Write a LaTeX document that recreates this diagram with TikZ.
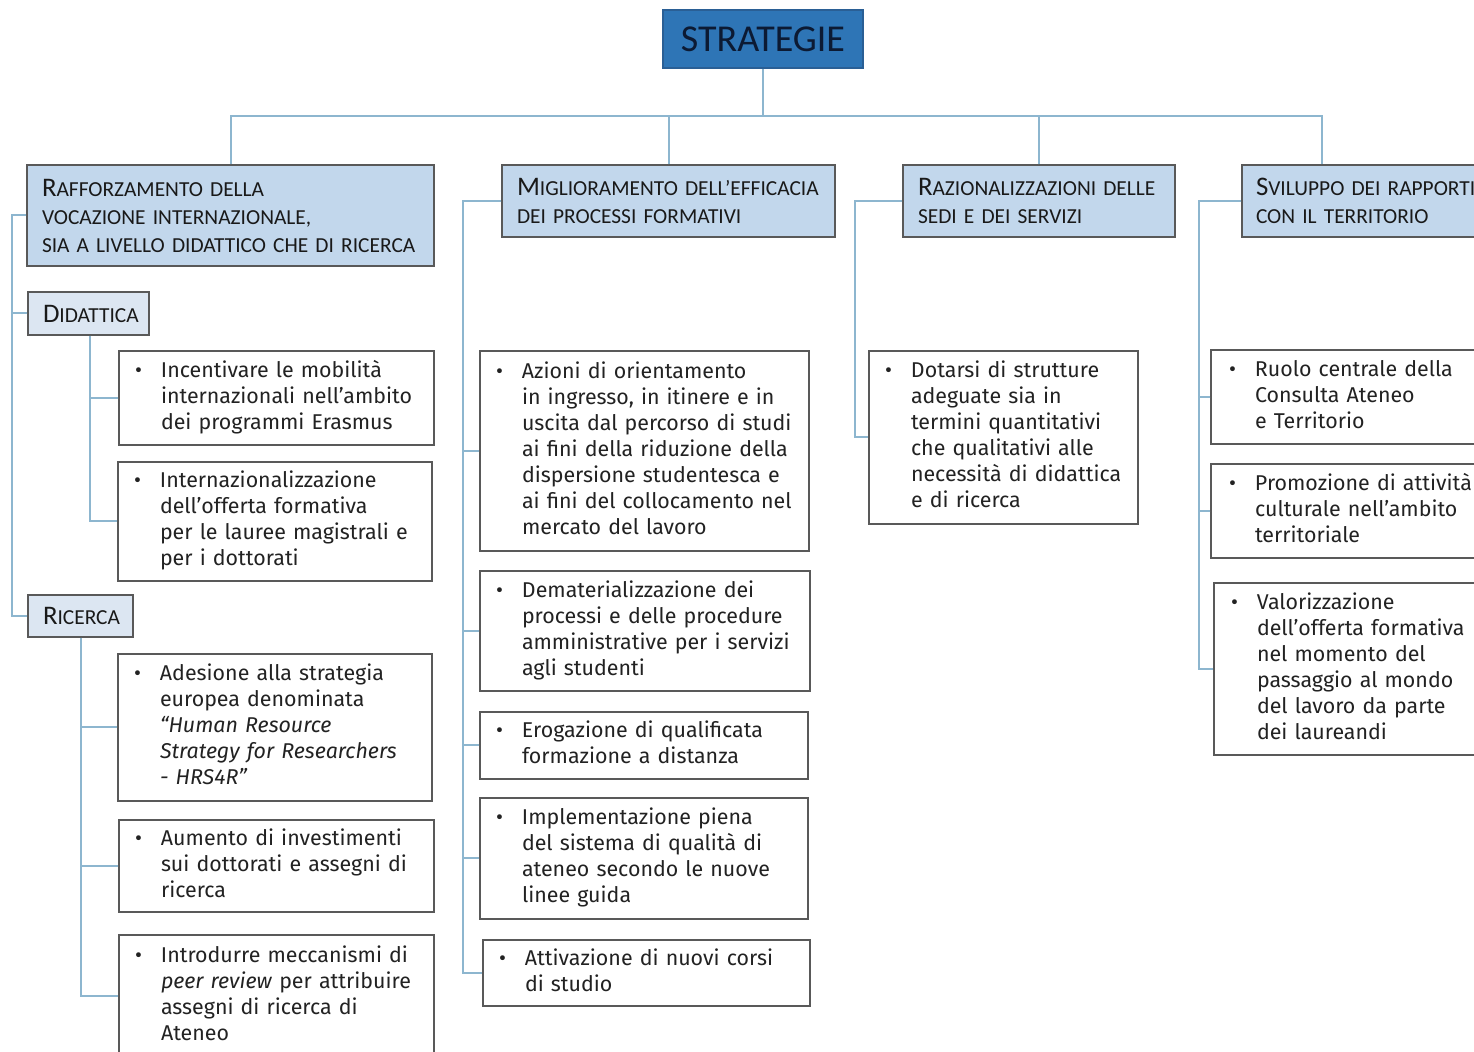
\documentclass[tikz,border=0pt]{standalone}
\usepackage{fontspec}
\setmainfont{Fira Sans}
\newfontfamily\hdfont{Carlito}
\usetikzlibrary{calc}
\definecolor{conncol}{HTML}{8DB6CF}
\definecolor{bordercol}{HTML}{595959}
\definecolor{hdfill}{HTML}{C2D7EC}
\definecolor{subfill}{HTML}{DCE6F2}
\definecolor{topfill}{HTML}{2E75B6}
\definecolor{topdraw}{HTML}{2A5F95}
\definecolor{toptext}{HTML}{0C1A33}
\definecolor{bodytext}{HTML}{222222}
\newcommand\bul[1]{\makebox[13pt][l]{\textbullet}\begin{tabular}[t]{@{}l@{}}#1\end{tabular}}
\newcommand\hd[2]{{\fontsize{13.4}{14}\selectfont #1}#2}
% style, name, x1, y1, x2, y2, xpad, text
\newcommand\bx[8]{%
  \pgfmathsetmacro\bxw{(#5-#3)*0.5}%
  \pgfmathsetmacro\bxh{(#6-#4)*0.5}%
  \pgfmathsetmacro\bxt{(#5-#3)*0.5-2*#7}%
  \node[#1, inner xsep=#7pt, inner ysep=0pt, minimum width=\bxw pt, minimum height=\bxh pt, text width=\bxt pt] (#2) at ({(#3+#5)/2},{(#4+#6)/2}) {#8};}
\tikzset{
  conn/.style={draw=conncol, line width=1pt},
  topbox/.style={draw=topdraw, fill=topfill, line width=0.8pt, text=toptext, font=\hdfont\fontsize{19}{22}\selectfont, inner sep=0pt},
  header/.style={draw=bordercol, fill=hdfill, line width=0.6pt, align=left, text=black!90, font=\hdfont\fontsize{10.7}{14}\selectfont},
  subhd/.style={header, fill=subfill},
  item/.style={draw=bordercol, fill=white, line width=0.6pt, align=left, text=bodytext, font=\fontsize{10.7}{13}\selectfont}
}
\begin{document}
\begin{tikzpicture}[x=0.5pt,y=-0.5pt]
\useasboundingbox (0,0) rectangle (1474,1052);
\clip (0,0) rectangle (1474,1052);
\fill[white] (0,0) rectangle (1474,1052);

\node[topbox, minimum width=100pt, minimum height=29pt] (top) at (763,39) {STRATEGIE};

\bx{header}{h1}{27}{165}{434}{266}{7.5}{\hd{R}{AFFORZAMENTO DELLA}\\VOCAZIONE INTERNAZIONALE,\\SIA A LIVELLO DIDATTICO CHE DI RICERCA}
\bx{header}{h2}{502}{165}{835}{237}{7.5}{\hd{M}{IGLIORAMENTO DELL’EFFICACIA}\\DEI PROCESSI FORMATIVI}
\bx{header}{h3}{903}{165}{1175}{237}{7.5}{\hd{R}{AZIONALIZZAZIONI DELLE}\\SEDI E DEI SERVIZI}
\bx{header}{h4}{1242}{165}{1500}{237}{7}{\hd{S}{VILUPPO DEI RAPPORTI}\\CON IL TERRITORIO}

\bx{subhd}{did}{28}{292}{149}{335}{7.5}{\hd{D}{IDATTICA}}
\bx{subhd}{ric}{28}{595}{133}{637}{7.5}{\hd{R}{ICERCA}}

\bx{item}{d1}{119}{351}{434}{445}{8}{\bul{Incentivare le mobilità\\internazionali nell’ambito\\dei programmi Erasmus}}
\bx{item}{d2}{118}{462}{432}{581}{8}{\bul{Internazionalizzazione\\dell’offerta formativa\\per le lauree magistrali e\\per i dottorati}}
\bx{item}{r1}{118}{654}{432}{801}{8}{\bul{Adesione alla strategia\\europea denominata\\\textit{“Human Resource}\\\textit{Strategy for Researchers}\\\textit{- HRS4R”}}}
\bx{item}{r2}{119}{820}{434}{912}{8}{\bul{Aumento di investimenti\\sui dottorati e assegni di\\ricerca}}
\bx{item}{r3}{119}{935}{434}{1058}{8}{\bul{Introdurre meccanismi di\\\textit{peer review} per attribuire\\assegni di ricerca di\\Ateneo}}

\bx{item}{m1}{480}{351}{809}{551}{8}{\bul{Azioni di orientamento\\in ingresso, in itinere e in\\uscita dal percorso di studi\\ai fini della riduzione della\\dispersione studentesca e\\ai fini del collocamento nel\\mercato del lavoro}}
\bx{item}{m2}{480}{571}{810}{691}{8}{\bul{Dematerializzazione dei\\processi e delle procedure\\amministrative per i servizi\\agli studenti}}
\bx{item}{m3}{480}{712}{808}{779}{8}{\bul{Erogazione di qualificata\\formazione a distanza}}
\bx{item}{m4}{480}{798}{808}{919}{8}{\bul{Implementazione piena\\del sistema di qualità di\\ateneo secondo le nuove\\linee guida}}
\bx{item}{m5}{483}{940}{810}{1006}{8}{\bul{Attivazione di nuovi corsi\\di studio}}

\bx{item}{q1}{869}{351}{1138}{524}{8}{\bul{Dotarsi di strutture\\adeguate sia in\\termini quantitativi\\che qualitativi alle\\necessità di didattica\\e di ricerca}}

\bx{item}{t1}{1211}{350}{1500}{444}{9}{\bul{Ruolo centrale della\\Consulta Ateneo\\e Territorio}}
\bx{item}{t2}{1211}{464}{1500}{558}{9}{\bul{Promozione di attività\\culturale nell’ambito\\territoriale}}
\bx{item}{t3}{1214}{583}{1500}{755}{8.5}{\bul{Valorizzazione\\dell’offerta formativa\\nel momento del\\passaggio al mondo\\del lavoro da parte\\dei laureandi}}

% top tree
\coordinate (bar) at (763,116);
\coordinate (d4) at (1322,116);
\draw[conn] (top.south) -- (bar);
\draw[conn] (h1.north) |- (bar);
\draw[conn] (h2.north) |- (bar);
\draw[conn] (h3.north) |- (bar);
\draw[conn] (d4 |- h4.north) -- (d4) -- (bar);

% column 1
\coordinate (s1) at (12,0);
\coordinate (s2) at (90,0);
\coordinate (s3) at (81,0);
\draw[conn] (h1.west) -| (s1 |- ric.west) -- (ric.west);
\draw[conn] (did.west) -- (did.west -| s1);
\draw[conn] (did.south -| s2) |- (d2.west);
\draw[conn] (d1.west) -- (d1.west -| s2);
\draw[conn] (ric.south -| s3) |- (r3.west);
\draw[conn] (r1.west) -- (r1.west -| s3);
\draw[conn] (r2.west) -- (r2.west -| s3);

% column 2
\coordinate (s4) at (463,0);
\draw[conn] (h2.west) -| (s4 |- m5.west) -- (m5.west);
\draw[conn] (m1.west) -- (m1.west -| s4);
\draw[conn] (m2.west) -- (m2.west -| s4);
\draw[conn] (m3.west) -- (m3.west -| s4);
\draw[conn] (m4.west) -- (m4.west -| s4);

% column 3
\coordinate (s5) at (855,0);
\draw[conn] (h3.west) -| (s5 |- q1.west) -- (q1.west);

% column 4
\coordinate (s6) at (1199,0);
\draw[conn] (h4.west) -| (s6 |- t3.west) -- (t3.west);
\draw[conn] (t1.west) -- (t1.west -| s6);
\draw[conn] (t2.west) -- (t2.west -| s6);
\end{tikzpicture}
\end{document}
